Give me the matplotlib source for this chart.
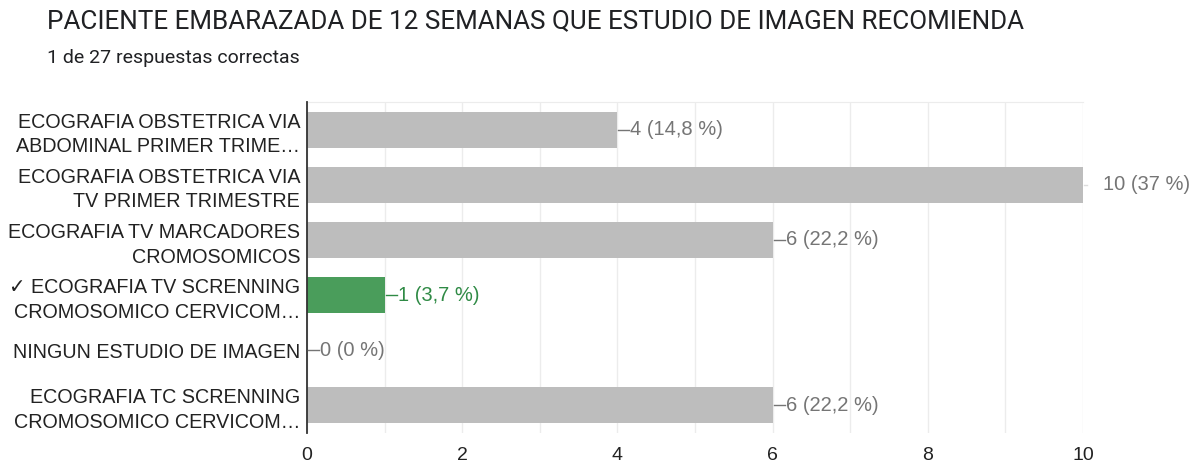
import numpy as np
from matplotlib import pyplot as plt
from matplotlib.transforms import offset_copy

title = 'PACIENTE EMBARAZADA DE 12 SEMANAS QUE ESTUDIO DE IMAGEN RECOMIENDA'
subtitle = '1 de 27 respuestas correctas'
labels = ['ECOGRAFIA OBSTETRICA VIA\nABDOMINAL PRIMER TRIME…',
          'ECOGRAFIA OBSTETRICA VIA\nTV PRIMER TRIMESTRE',
          'ECOGRAFIA TV MARCADORES\nCROMOSOMICOS',
          '✓ ECOGRAFIA TV SCRENNING\nCROMOSOMICO CERVICOM…',
          'NINGUN ESTUDIO DE IMAGEN',
          'ECOGRAFIA TC SCRENNING\nCROMOSOMICO CERVICOM…']
counts = [4, 10, 6, 1, 0, 6]
percents = ['14,8', '37', '22,2', '3,7', '0', '22,2']
correct = [False, False, False, True, False, False]
x_ticks = [0, 2, 4, 6, 8, 10]

grey_bar = '#bdbdbd'
green_bar = '#4a9d5b'
grey_text = '#757575'
green_text = '#2f8a45'
font = ['Liberation Sans', 'DejaVu Sans']

plt.rcParams['font.family'] = font

fig = plt.figure(figsize=(11.9, 4.66), dpi=100)
ax = fig.add_axes([307 / 1190, 1 - 433 / 466, 776 / 1190, 331 / 466])

y = np.arange(len(labels))
colors = [green_bar if c else grey_bar for c in correct]
ax.barh(y, counts, height=0.65, color=colors, zorder=2)

ax.set_xlim(0, 10)
ax.set_ylim(len(labels) - 0.5, -0.5)
ax.set_xticks(x_ticks)
ax.set_xticks(np.arange(0, 11, 1), minor=True)
ax.set_yticks(y)
ax.set_yticklabels(labels, fontsize=14.2, color='#222222', linespacing=1.38)
ax.tick_params(axis='both', length=0, which='both')
ax.tick_params(axis='x', labelsize=14, labelcolor='#222222', pad=10)
ax.tick_params(axis='y', pad=5)
ax.grid(axis='x', which='both', color='#ececec', linewidth=1, zorder=0)

for side in ['right', 'bottom']:
    ax.spines[side].set_visible(False)
ax.spines['top'].set_color('#ececec')
ax.spines['left'].set_color('#333333')
ax.spines['left'].set_linewidth(1.3)
ax.spines['left'].set_zorder(3)

for yi, cnt, pct, ok in zip(y, counts, percents, correct):
    col = green_text if ok else grey_text
    at_edge = cnt >= ax.get_xlim()[1]
    gap, line_len = (20, 4) if at_edge else (13, 12)
    line_col = '#dddddd' if at_edge else col
    start = offset_copy(ax.transData, fig=fig, x=1, y=0, units='dots')
    end = offset_copy(ax.transData, fig=fig, x=line_len, y=0, units='dots')
    p0 = start.transform((cnt, yi))
    p1 = end.transform((cnt, yi))
    ax.plot([p0[0], p1[0]], [p0[1], p1[1]], transform=None, color=line_col,
            linewidth=1, clip_on=False, zorder=4)
    ax.text(cnt, yi, f'{cnt} ({pct} %)',
            transform=offset_copy(ax.transData, fig=fig, x=gap, y=0, units='dots'),
            ha='left', va='center', fontsize=14.5, color=col)

fig.text(47 / 1190, 1 - 21 / 466, title, fontsize=18.7, color='#202124',
         family=['Roboto', 'DejaVu Sans'], ha='left', va='center')
fig.text(47 / 1190, 1 - 58 / 466, subtitle, fontsize=14, color='#202124',
         family=['Roboto', 'DejaVu Sans'], ha='left', va='center')

fig.savefig('out.png', dpi=100)
